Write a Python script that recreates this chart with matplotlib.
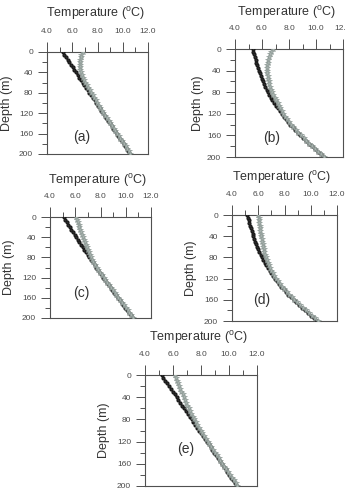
import matplotlib
matplotlib.use('Agg')
import matplotlib.pyplot as plt
from matplotlib.ticker import MultipleLocator, FormatStrFormatter

plt.rcParams['font.family'] = 'Liberation Sans'
plt.rcParams['mathtext.fontset'] = 'custom'
plt.rcParams['mathtext.rm'] = 'Liberation Sans'

depth = [0, 5, 10, 15, 20, 25, 30, 35, 40, 45, 50, 55, 60, 65, 70, 75, 80,
         85, 90, 95, 100, 105, 110, 115, 120, 125, 130, 135, 140, 145, 150,
         155, 160, 165, 170, 175, 180, 185, 190, 195, 200]

# panel (a)
a_black = [5.24, 5.37, 5.50, 5.63, 5.76, 5.89, 6.02, 6.16, 6.29, 6.42, 6.56,
           6.69, 6.82, 6.96, 7.09, 7.23, 7.36, 7.50, 7.63, 7.77, 7.90, 8.04,
           8.17, 8.31, 8.44, 8.58, 8.71, 8.85, 8.98, 9.12, 9.25, 9.39, 9.52,
           9.66, 9.79, 9.93, 10.06, 10.19, 10.32, 10.45, 10.57]
a_gray = [6.82, 6.72, 6.66, 6.62, 6.60, 6.60, 6.61, 6.64, 6.68, 6.74, 6.82,
          6.92, 7.03, 7.14, 7.26, 7.38, 7.50, 7.62, 7.74, 7.86, 7.99, 8.09,
          8.21, 8.34, 8.47, 8.61, 8.74, 8.88, 9.01, 9.15, 9.28, 9.42, 9.55,
          9.69, 9.82, 9.96, 10.09, 10.22, 10.35, 10.48, 10.59]

# panel (b)
b_black = [5.31, 5.36, 5.41, 5.47, 5.52, 5.58, 5.64, 5.70, 5.77, 5.84, 5.91,
           5.99, 6.07, 6.15, 6.24, 6.34, 6.43, 6.54, 6.65, 6.77, 6.89, 7.02,
           7.16, 7.30, 7.45, 7.60, 7.76, 7.93, 8.10, 8.28, 8.46, 8.65, 8.85,
           9.05, 9.25, 9.46, 9.68, 9.90, 10.12, 10.34, 10.56]
b_gray = [6.79, 6.66, 6.57, 6.50, 6.45, 6.42, 6.40, 6.39, 6.39, 6.40, 6.42,
          6.45, 6.49, 6.55, 6.61, 6.68, 6.76, 6.85, 6.95, 7.05, 7.15, 7.26,
          7.36, 7.46, 7.56, 7.69, 7.83, 7.99, 8.15, 8.32, 8.50, 8.69, 8.88,
          9.08, 9.28, 9.49, 9.70, 9.92, 10.13, 10.35, 10.56]

# panel (c)
c_black = [5.10, 5.22, 5.34, 5.46, 5.58, 5.70, 5.82, 5.95, 6.07, 6.20, 6.33,
           6.46, 6.59, 6.72, 6.85, 6.99, 7.12, 7.26, 7.39, 7.53, 7.67, 7.81,
           7.95, 8.09, 8.23, 8.37, 8.51, 8.66, 8.80, 8.95, 9.09, 9.24, 9.38,
           9.53, 9.67, 9.82, 9.97, 10.12, 10.27, 10.42, 10.56]
c_gray = [6.08, 6.14, 6.20, 6.27, 6.33, 6.40, 6.47, 6.54, 6.61, 6.68, 6.76,
          6.84, 6.92, 7.00, 7.08, 7.17, 7.26, 7.35, 7.44, 7.56, 7.69, 7.83,
          7.97, 8.11, 8.25, 8.39, 8.53, 8.68, 8.82, 8.97, 9.11, 9.26, 9.40,
          9.55, 9.69, 9.84, 9.99, 10.14, 10.29, 10.44, 10.58]

# panel (d)
d_black = [5.17, 5.22, 5.28, 5.33, 5.39, 5.45, 5.51, 5.57, 5.63, 5.70, 5.77,
           5.84, 5.92, 6.00, 6.09, 6.18, 6.28, 6.38, 6.49, 6.61, 6.73, 6.86,
           7.00, 7.14, 7.28, 7.44, 7.60, 7.76, 7.93, 8.11, 8.30, 8.49, 8.69,
           8.90, 9.11, 9.33, 9.55, 9.78, 10.01, 10.24, 10.48]
d_gray = [6.01, 6.03, 6.06, 6.08, 6.11, 6.14, 6.17, 6.20, 6.23, 6.27, 6.31,
          6.35, 6.39, 6.43, 6.47, 6.52, 6.58, 6.65, 6.73, 6.81, 6.90, 7.00,
          7.11, 7.23, 7.36, 7.50, 7.65, 7.81, 7.98, 8.16, 8.35, 8.54, 8.74,
          8.95, 9.16, 9.38, 9.60, 9.83, 10.06, 10.29, 10.52]

# panel (e)
e_black = [5.18, 5.31, 5.45, 5.58, 5.71, 5.85, 5.98, 6.12, 6.25, 6.38, 6.52,
           6.65, 6.79, 6.92, 7.06, 7.19, 7.33, 7.46, 7.60, 7.73, 7.87, 8.00,
           8.14, 8.27, 8.41, 8.54, 8.68, 8.81, 8.95, 9.08, 9.22, 9.35, 9.49,
           9.62, 9.76, 9.89, 10.03, 10.16, 10.30, 10.43, 10.57]
e_gray = [6.12, 6.20, 6.28, 6.36, 6.44, 6.52, 6.60, 6.68, 6.77, 6.85, 6.94,
          7.03, 7.12, 7.21, 7.31, 7.41, 7.51, 7.62, 7.73, 7.85, 7.97, 8.08,
          8.21, 8.34, 8.47, 8.60, 8.73, 8.86, 8.99, 9.12, 9.26, 9.39, 9.53,
          9.66, 9.80, 9.93, 10.07, 10.20, 10.34, 10.47, 10.60]

x_ticks = [4.0, 6.0, 8.0, 10.0, 12.0]
y_ticks = [0, 40, 80, 120, 160, 200]
panel_names = ['(a)', '(b)', '(c)', '(d)', '(e)']
title_txt = r'Temperature ($^{\mathrm{o}}$C)'
ylabel_txt = 'Depth (m)'

W, H = 346, 492
# axes boxes in pixels: left, top, right, bottom
boxes = [(47, 52, 148, 154), (235, 49, 343, 157), (50, 217, 151, 318),
         (232, 215, 337, 321), (145, 375, 257, 486)]
title_pos = [(95, 14), (286, 13), (97, 181), (281, 178), (198, 338)]
ylab_x = [7, 198, 9, 191, 104]
label_pos = [(0.26, 0.13), (0.26, 0.14), (0.23, 0.21), (0.20, 0.16), (0.29, 0.30)]
series = [(a_black, a_gray), (b_black, b_gray), (c_black, c_gray),
          (d_black, d_gray), (e_black, e_gray)]

fig = plt.figure(figsize=(W / 100, H / 100), dpi=100)
spine_col = '#505050'

for i, (l, t, r, b) in enumerate(boxes):
    ax = fig.add_axes([l / W, 1 - b / H, (r - l) / W, (b - t) / H])
    blk, gry = series[i]
    ax.plot(blk, depth, color='#1c1c1c', lw=1.0, marker='o', ms=2.0,
            mec='#1c1c1c', mfc='#303030', zorder=3)
    ax.plot(gry, depth, color='#a0aba7', lw=0.7, marker='*', ms=3.8,
            mec='#8c9894', mfc='#a7b2ae', mew=0.4, zorder=4)
    ax.set_xlim(4, 12)
    ax.set_ylim(200, 0)
    ax.xaxis.tick_top()
    ax.set_xticks(x_ticks)
    ax.xaxis.set_major_formatter(FormatStrFormatter('%.1f'))
    ax.xaxis.set_minor_locator(MultipleLocator(1))
    ax.set_yticks(y_ticks)
    ax.yaxis.set_minor_locator(MultipleLocator(20))
    ax.tick_params(axis='x', which='major', direction='out', length=7,
                   width=0.7, color=spine_col, labelsize=6,
                   labelcolor='#4a4a4a', pad=5)
    ax.tick_params(axis='x', which='minor', direction='out', length=3.5,
                   width=0.7, color=spine_col)
    ax.tick_params(axis='y', which='major', direction='out', length=6.5,
                   width=0.7, color=spine_col, labelsize=6,
                   labelcolor='#4a4a4a', pad=3.5)
    ax.tick_params(axis='y', which='minor', direction='out', length=3.5,
                   width=0.7, color=spine_col)
    for s in ax.spines.values():
        s.set_color(spine_col)
        s.set_linewidth(0.8)
    ax.text(label_pos[i][0], label_pos[i][1], panel_names[i],
            transform=ax.transAxes, fontsize=10, color='#333333')
    fig.text(title_pos[i][0] / W, 1 - title_pos[i][1] / H, title_txt,
             fontsize=9, color='#333333', ha='center', va='center')
    fig.text(ylab_x[i] / W, 1 - ((t + b) / 2) / H, ylabel_txt,
             fontsize=9, color='#333333', ha='center', va='center',
             rotation=90)

fig.savefig('out.png', dpi=100)
